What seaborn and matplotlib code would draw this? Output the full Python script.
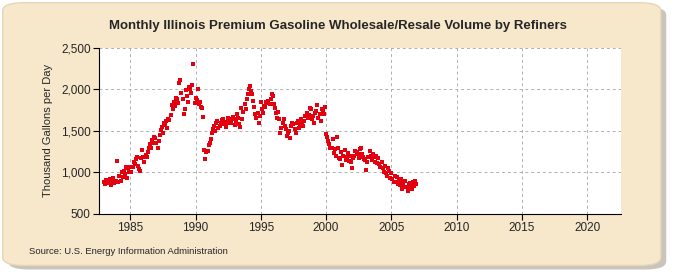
import numpy as np
import pandas as pd
import matplotlib
matplotlib.use("Agg")
import matplotlib.pyplot as plt
from matplotlib.patches import FancyBboxPatch
import seaborn as sns

# monthly volumes, thousand gallons per day
years = list(range(1983, 2007))
v1983 = [880, 860, 910, 900, 870, 920, 850, 880, 930, 870, 890, 900]
v1984 = [1140, 880, 960, 900, 1000, 950, 1020, 980, 1060, 930, 1050, 1010]
v1985 = [1070, 1000, 1060, 1120, 1100, 1160, 1190, 1080, 1040, 1020, 1170, 1270]
v1986 = [1180, 1120, 1210, 1180, 1250, 1300, 1340, 1290, 1390, 1360, 1430, 1420]
v1987 = [1360, 1300, 1380, 1450, 1510, 1550, 1480, 1600, 1570, 1620, 1530, 1640]
v1988 = [1630, 1690, 1810, 1760, 1850, 1800, 1900, 1880, 1830, 2080, 2110, 1960]
v1989 = [1880, 1700, 1760, 1990, 1920, 1850, 2030, 2000, 1960, 2050, 2310, 1840]
v1990 = [1900, 1870, 2010, 1820, 1850, 1790, 1780, 1670, 1270, 1160, 1250, 1260]
v1991 = [1330, 1360, 1400, 1470, 1520, 1560, 1500, 1590, 1620, 1540, 1560, 1600]
v1992 = [1630, 1640, 1580, 1610, 1550, 1600, 1660, 1620, 1640, 1590, 1670, 1640]
v1993 = [1570, 1610, 1700, 1650, 1580, 1550, 1780, 1640, 1730, 1820, 1760, 1880]
v1994 = [1950, 2000, 2040, 1980, 1940, 1860, 1790, 1700, 1650, 1720, 1600, 1680]
v1995 = [1850, 1760, 1720, 1800, 1790, 1850, 1830, 1860, 1820, 1880, 1950, 1920]
v1996 = [1820, 1780, 1720, 1650, 1730, 1640, 1480, 1540, 1600, 1640, 1560, 1520]
v1997 = [1440, 1470, 1500, 1420, 1560, 1600, 1580, 1520, 1470, 1600, 1620, 1540]
v1998 = [1580, 1640, 1600, 1560, 1620, 1680, 1710, 1650, 1690, 1780, 1760, 1640]
v1999 = [1680, 1600, 1720, 1740, 1810, 1660, 1700, 1620, 1760, 1740, 1700, 1790]
v2000 = [1460, 1430, 1380, 1340, 1290, 1300, 1400, 1230, 1280, 1200, 1430, 1290]
v2001 = [1170, 1160, 1240, 1090, 1200, 1270, 1150, 1180, 1230, 1140, 1200, 1130]
v2002 = [1050, 1170, 1200, 1260, 1250, 1220, 1170, 1280, 1300, 1220, 1190, 1160]
v2003 = [1150, 1030, 1120, 1180, 1260, 1200, 1150, 1220, 1180, 1120, 1200, 1110]
v2004 = [1170, 1100, 1070, 1130, 1050, 1010, 1080, 990, 960, 1050, 1020, 930]
v2005 = [990, 920, 880, 960, 890, 940, 860, 900, 850, 920, 800, 870]
v2006 = [820, 900, 830, 780, 860, 870, 820, 800, 880, 840, 900, 860]

all_years = [v1983, v1984, v1985, v1986, v1987, v1988, v1989, v1990,
             v1991, v1992, v1993, v1994, v1995, v1996, v1997, v1998,
             v1999, v2000, v2001, v2002, v2003, v2004, v2005, v2006]

rows = []
for y, vals in zip(years, all_years):
    for m, v in enumerate(vals):
        rows.append({"date": y + m / 12.0, "volume": v})
df = pd.DataFrame(rows)

title = "Monthly Illinois Premium Gasoline Wholesale/Resale Volume by Refiners"
ylabel = "Thousand Gallons per Day"
source = "Source: U.S. Energy Information Administration"
xticks = [1985, 1990, 1995, 2000, 2005, 2010, 2015, 2020]
yticks = [500, 1000, 1500, 2000, 2500]

sns.set_style("white")
plt.rcParams["font.family"] = ["Liberation Sans", "DejaVu Sans"]

fig = plt.figure(figsize=(6.75, 2.75), dpi=100)
fig.patch.set_facecolor("white")

# rounded beige panel with a soft shadow
shadow = FancyBboxPatch((0.012, 0.02), 0.975, 0.955, boxstyle="round,pad=0,rounding_size=0.03",
                        transform=fig.transFigure, facecolor="#c9c4bc", edgecolor="none", zorder=0)
fig.patches.append(shadow)
panel = FancyBboxPatch((0.004, 0.035), 0.975, 0.955, boxstyle="round,pad=0,rounding_size=0.03",
                       transform=fig.transFigure, facecolor="#f7e7cb", edgecolor="#e8d6b5", zorder=1)
fig.patches.append(panel)
grad = np.linspace(0, 1, 256).reshape(-1, 1)
bg = fig.add_axes([0, 0, 1, 1], zorder=0)
bg.set_axis_off()
cmap = matplotlib.colors.LinearSegmentedColormap.from_list("bg", ["#fdf8ef", "#f5e2c3"])
im = bg.imshow(grad, aspect="auto", cmap=cmap, origin="lower", extent=[0, 1, 0, 1],
               transform=fig.transFigure, zorder=2)
im.set_clip_path(panel)

ax = fig.add_axes([0.1467, 0.222, 0.7733, 0.604], zorder=3)
ax.set_facecolor("white")
sns.scatterplot(data=df, x="date", y="volume", ax=ax, marker="s", s=11,
                color="#e3000f", edgecolor="#e3000f", linewidth=0, zorder=3)

ax.set_xlim(1982.6, 2022.6)
ax.set_ylim(500, 2500)
ax.set_xticks(xticks)
ax.set_yticks(yticks)
ax.set_yticklabels([f"{t:,}" for t in yticks])
ax.grid(True, color="#b0b0b0", linestyle=(0, (3, 3)), linewidth=0.7)
ax.set_axisbelow(True)
for s in ["top", "right"]:
    ax.spines[s].set_visible(False)
ax.spines["left"].set_color("black")
ax.spines["bottom"].set_color("black")
ax.tick_params(axis="both", labelsize=8.5, length=4, color="black", direction="out",
               bottom=True, left=True, pad=2)
ax.set_xlabel("")
ax.set_ylabel(ylabel, fontsize=8, labelpad=6)

fig.text(0.5, 0.905, title, ha="center", va="center", fontsize=9.5, fontweight="bold")
fig.text(0.043, 0.085, source, ha="left", va="center", fontsize=6.8)

fig.savefig("out.png", dpi=100)
